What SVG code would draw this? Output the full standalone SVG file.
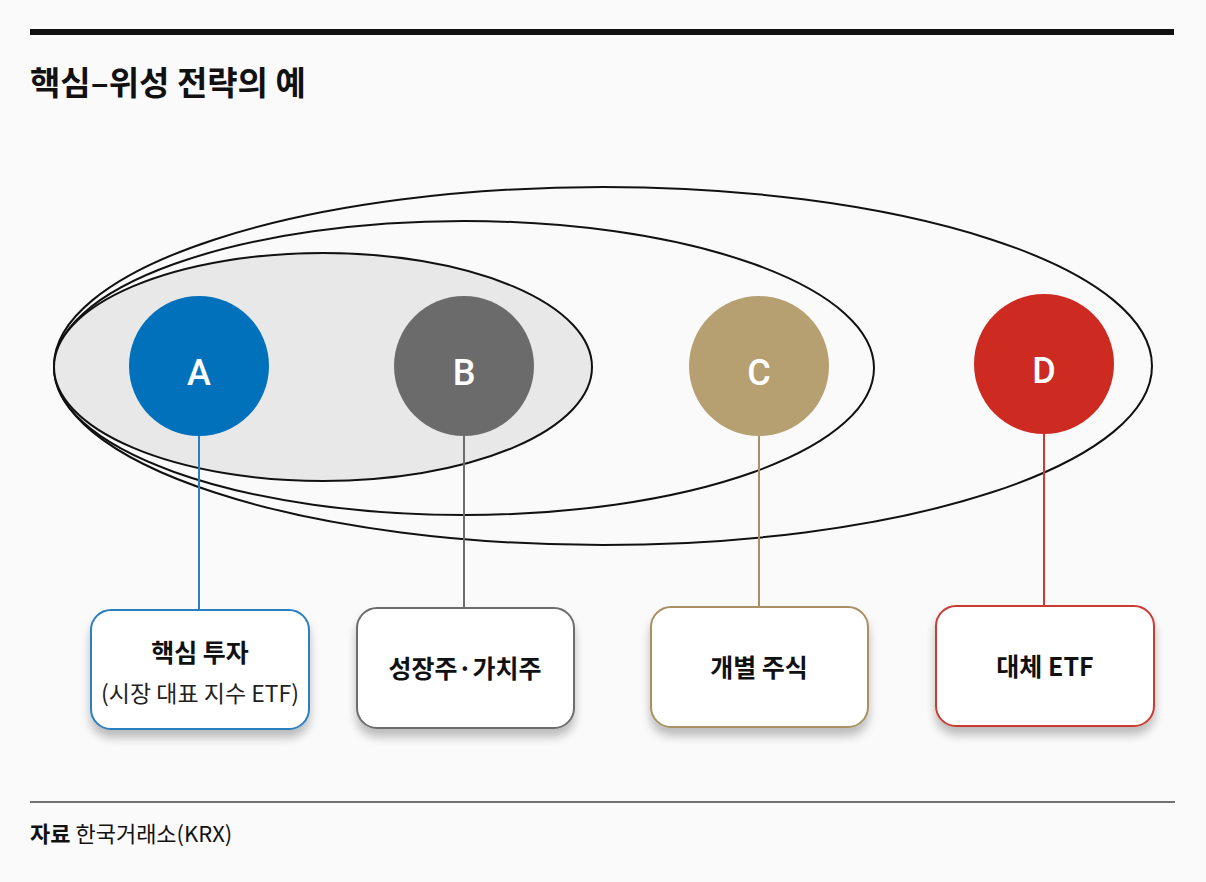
<svg xmlns="http://www.w3.org/2000/svg" width="1206" height="882" viewBox="0 0 1206 882">
<defs>
<filter id="sh" x="-20%" y="-20%" width="140%" height="150%">
<feGaussianBlur in="SourceAlpha" stdDeviation="5"/>
<feOffset dx="0" dy="8" result="b"/>
<feComponentTransfer><feFuncA type="linear" slope="0.25"/></feComponentTransfer>
<feMerge><feMergeNode/><feMergeNode in="SourceGraphic"/></feMerge>
</filter>
</defs>
<style>
text{font-family:"Noto Sans CJK KR","Noto Sans",sans-serif;fill:#111}
.lbl{font-size:25px;font-weight:700;text-anchor:middle}
.sub{font-size:23px;font-weight:400;text-anchor:middle;fill:#222}
.ltr{font-family:Roboto,"Noto Sans",sans-serif;font-size:36px;font-weight:500;fill:#fff;text-anchor:middle}
.box{fill:#fff;stroke-width:2}
.ell{fill:none;stroke:#111;stroke-width:2}
.con{stroke-width:2;fill:none}
</style>
<rect width="1206" height="882" fill="#fafafa"/>
<rect x="30" y="29" width="1144" height="6" fill="#111"/>
<text x="30" y="95" style="font-size:33px;font-weight:700">핵심–위성 전략의 예</text>
<g id="ellipses">
<ellipse cx="603" cy="366" rx="549" ry="179" class="ell"/>
<ellipse cx="464" cy="368" rx="410" ry="147" class="ell"/>
<ellipse cx="323" cy="367" rx="269" ry="114" class="ell" style="fill:#e8e8e8"/>
</g>
<g id="connectors">
<line x1="199" y1="435" x2="199" y2="610" class="con" stroke="#2a7fc0"/>
<line x1="464" y1="435" x2="464" y2="608" class="con" stroke="#6d6d6d"/>
<line x1="759" y1="435" x2="759" y2="607" class="con" stroke="#a89064"/>
<line x1="1044" y1="433" x2="1044" y2="606" class="con" stroke="#cc3a33"/>
</g>
<g id="nodeA"><circle cx="199" cy="366" r="70" fill="#0071ba"/><text x="199" y="385" class="ltr">A</text></g>
<g id="nodeB"><circle cx="464" cy="366" r="70" fill="#6b6b6b"/><text x="464" y="385" class="ltr">B</text></g>
<g id="nodeC"><circle cx="759" cy="366" r="70" fill="#b6a072"/><text x="759" y="385" class="ltr">C</text></g>
<g id="nodeD"><circle cx="1044" cy="364" r="70" fill="#cd2a22"/><text x="1044" y="383" class="ltr">D</text></g>
<g id="boxA"><rect x="91" y="610" width="218" height="119" rx="20" class="box" stroke="#2a7fc0" filter="url(#sh)"/>
<text x="200" y="662" class="lbl">핵심 투자</text><text x="200" y="702" class="sub">(시장 대표 지수 ETF)</text></g>
<g id="boxB"><rect x="357" y="608" width="217" height="120" rx="20" class="box" stroke="#6d6d6d" filter="url(#sh)"/>
<text x="465" y="678" class="lbl">성장주·가치주</text></g>
<g id="boxC"><rect x="651" y="607" width="217" height="120" rx="20" class="box" stroke="#a89064" filter="url(#sh)"/>
<text x="759" y="677" class="lbl">개별 주식</text></g>
<g id="boxD"><rect x="936" y="606" width="218" height="120" rx="20" class="box" stroke="#cc3a33" filter="url(#sh)"/>
<text x="1045" y="676" class="lbl">대체 ETF</text></g>
<line x1="30" y1="802" x2="1175" y2="802" stroke="#444" stroke-width="1.5"/>
<text x="30" y="842" style="font-size:22px"><tspan font-weight="700">자료</tspan> 한국거래소(KRX)</text>
</svg>
